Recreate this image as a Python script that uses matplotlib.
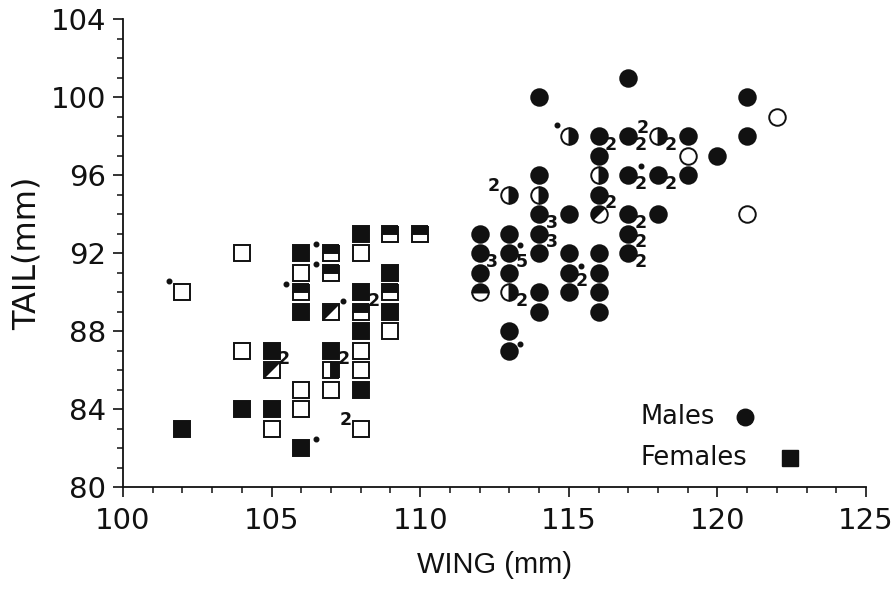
import numpy as np
import matplotlib
matplotlib.use("Agg")
import matplotlib.pyplot as plt
from matplotlib.path import Path

# wing / tail (mm) of each bird, grouped by symbol type
males_filled = [(114, 100), (117, 101), (121, 100), (116, 98), (117, 98), (119, 98),
                (121, 98), (116, 97), (120, 97), (114, 96), (117, 96), (118, 96),
                (119, 96), (116, 95), (114, 94), (115, 94), (117, 94), (118, 94),
                (112, 93), (113, 93), (114, 93), (117, 93), (112, 92), (113, 92),
                (114, 92), (115, 92), (116, 92), (117, 92), (112, 91), (113, 91),
                (115, 91), (116, 91), (114, 90), (115, 90), (116, 90), (114, 89),
                (116, 89), (113, 88), (113, 87)]
males_open = [(119, 97), (121, 94), (122, 99)]
males_half_right = [(113, 95), (114, 95), (115, 98), (116, 96), (118, 98), (113, 90)]
males_half_top = [(112, 90)]
males_diag = [(116, 94)]

females_filled = [(102, 83), (104, 84), (105, 87), (105, 84), (106, 92), (106, 89),
                  (106, 82), (107, 87), (108, 93), (108, 90), (108, 88), (108, 85),
                  (109, 91), (109, 89)]
females_open = [(102, 90), (104, 92), (104, 87), (105, 83), (106, 91), (106, 85),
                (106, 84), (107, 85), (108, 92), (108, 87), (108, 86), (108, 83),
                (109, 88)]
females_half_top = [(106, 90), (107, 92), (107, 91), (108, 89), (109, 93), (109, 90),
                    (110, 93)]
females_half_right = [(107, 86)]
females_diag = [(105, 86), (107, 89)]

# number of birds sharing a symbol (w, t, n, side)
counts = [(112, 92, "3", "lr"), (113, 92, "5", "lr"), (113, 90, "2", "lr"),
          (113, 95, "2", "ul"), (114, 94, "3", "lr"), (114, 93, "3", "lr"),
          (115, 91, "2", "lr"), (116, 98, "2", "lr"), (116, 95, "2", "lr"),
          (117, 98, "2", "lr"), (118, 98, "2", "ul"), (118, 98, "2", "lr"),
          (117, 96, "2", "lr"), (118, 96, "2", "lr"), (117, 94, "2", "lr"),
          (117, 93, "2", "lr"), (117, 92, "2", "lr"), (105, 87, "2", "lr"),
          (107, 87, "2", "lr"), (108, 90, "2", "lr"), (108, 83, "2", "ul")]

# small dots next to some symbols
dots = [(101.56, 90.6), (106.5, 92.5), (106.5, 91.45), (105.5, 90.4), (107.4, 89.55),
        (106.5, 82.5), (113.37, 92.43), (113.37, 87.34), (115.42, 91.34),
        (114.6, 98.6), (117.43, 96.48)]

INK = "#111111"
offsets = {"lr": (9, -6), "ul": (-11, 6)}

# diagonal half markers (upper-left part filled)
tri = Path([(-1, -1), (1, 1), (-1, 1), (-1, -1)], closed=True)
ang = np.radians(np.linspace(45, 225, 60))
half_disc = Path(np.vstack([np.column_stack([np.cos(ang), np.sin(ang)]), [[np.cos(ang[0]), np.sin(ang[0])]]]), closed=True)

fig = plt.figure(figsize=(8.93, 5.89), dpi=100)
ax = fig.add_axes([0.1377, 0.1727, 0.8321, 0.7945])

CMS = 11.9  # circle size
SMS = 11.4  # square size
MEW = 1.4


def draw(pts, marker, ms, **kw):
    if not pts:
        return
    w, t = zip(*pts)
    ax.plot(w, t, linestyle="none", marker=marker, ms=ms, mec=INK, mew=MEW,
            clip_on=False, **kw)


for mk, ms, full, opn, top, right, diag, dpath in [
        ("o", CMS, males_filled, males_open, males_half_top, males_half_right, males_diag, half_disc),
        ("s", SMS, females_filled, females_open, females_half_top, females_half_right, females_diag, tri)]:
    draw(full, mk, ms, mfc=INK)
    draw(opn, mk, ms, mfc="white")
    draw(top, mk, ms, fillstyle="top", mfc=INK, markerfacecoloralt="white")
    draw(right, mk, ms, fillstyle="right", mfc=INK, markerfacecoloralt="white")
    draw(diag, mk, ms, mfc="white")
    w, t = zip(*diag)
    ax.plot(w, t, linestyle="none", marker=dpath, ms=ms, mfc=INK, mew=0)

dw, dt = zip(*dots)
ax.plot(dw, dt, linestyle="none", marker="o", ms=3.3, color=INK)

for w, t, n, side in counts:
    ax.annotate(n, (w, t), xytext=offsets[side], textcoords="offset points",
                ha="center", va="center", fontsize=12.5, fontweight="bold", color=INK)

# legend
ax.text(0.696, 0.150, "Males", transform=ax.transAxes, va="center", fontsize=18.5, color=INK)
ax.text(0.696, 0.0626, "Females", transform=ax.transAxes, va="center", fontsize=18.5, color=INK)
ax.plot([0.837], [0.150], "o", transform=ax.transAxes, ms=CMS, color=INK, clip_on=False)
ax.plot([0.898], [0.0626], "s", transform=ax.transAxes, ms=SMS, color=INK, clip_on=False)

ax.set_xlim(100, 125)
ax.set_ylim(80, 104)
ax.set_xticks(range(100, 126, 5))
ax.set_xticks(range(100, 126), minor=True)
ax.set_yticks(range(80, 105, 4))
ax.set_yticks(range(80, 105), minor=True)
ax.tick_params(which="major", direction="out", length=7, width=1.2, labelsize=21,
               colors=INK, pad=5)
ax.tick_params(which="minor", direction="out", length=4, width=1.1, colors=INK)
ax.tick_params(axis="x", which="major", pad=7)
for s in ["top", "right"]:
    ax.spines[s].set_visible(False)
for s in ["left", "bottom"]:
    ax.spines[s].set_linewidth(1.3)
    ax.spines[s].set_color(INK)

ax.set_xlabel("WING (mm)", fontsize=21, family="Liberation Sans", color=INK, labelpad=12)
ax.set_ylabel("TAIL(mm)", fontsize=23, color=INK, labelpad=6)

fig.savefig("out.png", dpi=100)
